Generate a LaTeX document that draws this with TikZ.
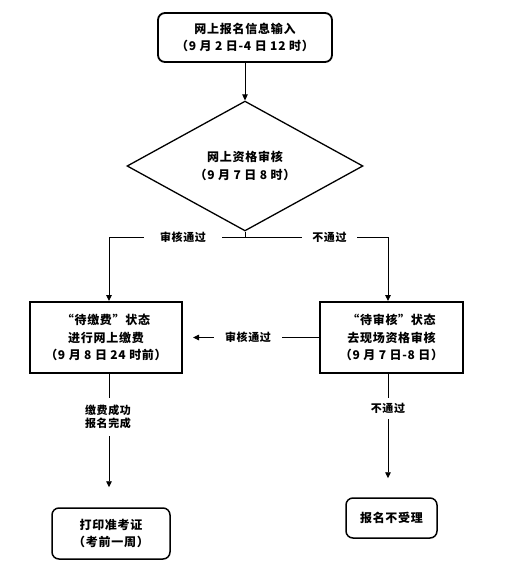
\documentclass[tikz,border=0pt]{standalone}
\usepackage{fontspec}
\setmainfont{Noto Sans CJK SC}[LetterSpace=6]
\usetikzlibrary{arrows.meta,shapes.geometric}
\begin{document}
\begin{tikzpicture}[x=1pt,y=-1pt,
  txt/.style={font=\fontsize{12}{17.5}\selectfont\bfseries, align=center},
  lbl/.style={font=\fontsize{11}{13}\selectfont\bfseries, align=center, fill=white},
  rbox/.style={txt, draw, line width=1.8pt, rounded corners=7pt, inner sep=0pt},
  sbox/.style={txt, draw, line width=2pt, inner sep=0pt},
  dia/.style={txt, draw, diamond, line width=1.3pt, inner sep=0pt},
  ln/.style={line width=0.9pt},
  arr/.style={ln, -{Triangle[width=5.5pt,length=6pt]}}
]
\useasboundingbox (0,0) rectangle (510,582);

\node[rbox, minimum width=174pt, minimum height=49pt] (start) at (245,37.5)
  {网上报名信息输入\\（9 月 2 日-4 日 12 时）};
\node[dia, minimum width=236pt, minimum height=98pt] (check) at (245,166)
  {网上资格审核\\（9 月 7 日 8 时）};
\node[sbox, minimum width=152pt, minimum height=71pt] (pay) at (106,337.5)
  {“待缴费”状态\\进行网上缴费\\（9 月 8 日 24 时前）};
\node[sbox, minimum width=143pt, minimum height=71pt] (site) at (391.5,337.5)
  {“待审核”状态\\去现场资格审核\\（9 月 7 日-8 日）};
\node[rbox, line width=1.5pt, minimum width=118pt, minimum height=51pt] (print) at (111,533.5)
  {打印准考证\\（考前一周）};
\node[rbox, line width=1.5pt, minimum width=91pt, minimum height=40pt] (reject) at (391.5,518)
  {报名不受理};

\coordinate (j) at (245,237);
\coordinate (jl) at (109,237);
\coordinate (jr) at (388,237);

\draw[arr] (start.south) -- (check.north);
\draw[ln] (check.south) -- (j);
\draw[arr] (j) -- (jl) -- (jl |- pay.north);
\draw[arr] (j) -- (jr) -- (jr |- site.north);
\node[lbl, inner xsep=16pt, inner ysep=2pt] (l1) at (183,237) {审核通过};
\node[lbl, inner xsep=10pt, inner ysep=2pt] (l2) at (329.5,237) {不通过};

\draw[arr, shorten >=10pt] (site.west) -- (pay.east);
\node[lbl, inner xsep=11pt, inner ysep=2pt] (l3) at (248,337.5) {审核通过};

\draw[arr, shorten >=20pt] (pay.south -| jl) -- (print.north -| jl);
\node[lbl, inner xsep=2pt, inner ysep=7pt] (l4) at (108,417) {缴费成功\\报名完成};

\draw[arr, shorten >=19pt] (site.south -| jr) -- (reject.north -| jr);
\node[lbl, inner xsep=2pt, inner ysep=5pt] (l5) at (388,408.5) {不通过};
\end{tikzpicture}
\end{document}
